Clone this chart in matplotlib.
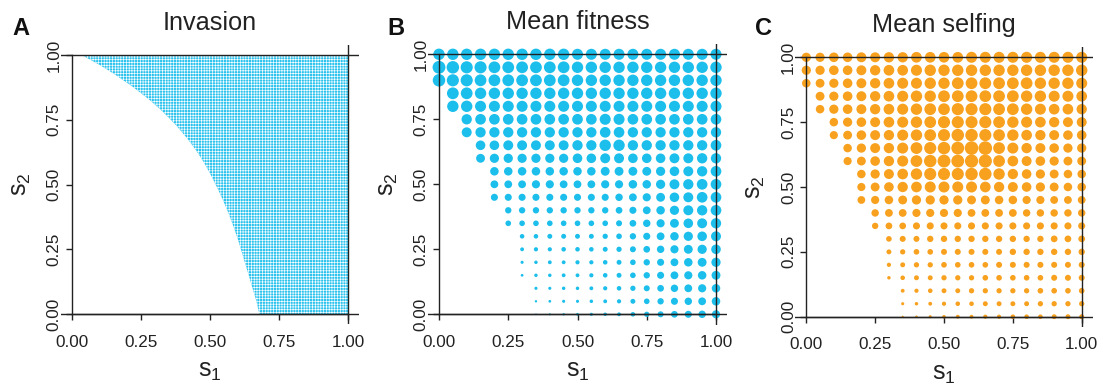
import numpy as np
import matplotlib
matplotlib.use("Agg")
import matplotlib.pyplot as plt

plt.rcParams['font.family'] = ['Liberation Sans', 'DejaVu Sans']
plt.rcParams['mathtext.fontset'] = 'custom'
plt.rcParams['mathtext.rm'] = 'Liberation Sans'
plt.rcParams['hatch.linewidth'] = 0.45
plt.rcParams['hatch.color'] = 'white'

# ---------------- data ----------------
s_vals = [0.00, 0.05, 0.10, 0.15, 0.20, 0.25, 0.30, 0.35, 0.40, 0.45, 0.50,
          0.55, 0.60, 0.65, 0.70, 0.75, 0.80, 0.85, 0.90, 0.95, 1.00]
tick_vals = [0.00, 0.25, 0.50, 0.75, 1.00]
tick_labels = ["0.00", "0.25", "0.50", "0.75", "1.00"]
titles = ["Invasion", "Mean fitness", "Mean selfing"]
panel_letters = ["A", "B", "C"]

# Panel A: invasion boundary (s1 threshold for each s2)
inv_s2 = [1.00, 0.96, 0.923, 0.875, 0.826, 0.78, 0.73, 0.68, 0.633, 0.585, 0.537,
          0.49, 0.44, 0.392, 0.344, 0.295, 0.247, 0.20, 0.151, 0.10, 0.054, 0.00]
inv_s1 = [0.035, 0.103, 0.158, 0.223, 0.282, 0.330, 0.376, 0.416, 0.449, 0.478, 0.503,
          0.525, 0.547, 0.566, 0.583, 0.599, 0.613, 0.626, 0.640, 0.654, 0.667, 0.679]

n = np.nan
# rows: s2 = 1.00 (top) ... 0.00 (bottom); columns: s1 = 0.00 ... 1.00
mean_fitness = [
    [30,30,30,30,30,30,30,30,30,30,29,29,29,29,29,29,29,29,29,29,29],
    [34,33,32,32,31,31,31,31,31,31,30,30,30,30,30,30,30,30,30,30,30],
    [33,32,32,31,31,31,31,31,31,31,30,30,30,30,30,30,30,30,30,30,30],
    [n,31,31,30,30,30,30,30,30,30,30,30,30,30,30,30,30,30,30,30,30],
    [n,30,30,29,29,29,29,29,29,29,29,29,29,29,29,29,29,29,29,29,29],
    [n,n,27,28,28,28,28,28,28,28,28,28,29,29,28,28,28,28,28,28,28],
    [n,n,26,27,27,27,27,27,27,27,27,27,28,28,27,27,27,27,27,27,27],
    [n,n,n,25,25,26,26,26,26,26,27,27,30,30,27,27,27,27,27,27,28],
    [n,n,n,23,24,24,24,24,24,24,25,25,26,26,25,25,25,26,26,27,27],
    [n,n,n,n,22,22,22,22,22,22,22,22,23,23,23,23,24,25,26,27,28],
    [n,n,n,n,20,20,20,21,21,20,20,20,21,21,22,22,24,26,27,28,28],
    [n,n,n,n,18,18,18,18,18,18,18,18,18,19,20,21,23,25,26,28,28],
    [n,n,n,n,n,16,16,16,16,16,16,16,16,17,18,20,22,24,26,27,28],
    [n,n,n,n,n,14,14,14,14,14,14,14,14,15,17,19,21,23,25,26,27],
    [n,n,n,n,n,n,11,11,12,12,12,12,13,14,16,18,20,22,24,25,26],
    [n,n,n,n,n,n,9,10,10,11,11,11,12,13,15,17,19,21,23,24,25],
    [n,n,n,n,n,n,7,8,9,9,10,10,11,12,14,16,18,20,22,23,24],
    [n,n,n,n,n,n,6,8,8,9,9,10,11,12,14,16,18,20,21,22,23],
    [n,n,n,n,n,n,n,7,7,8,8,9,10,11,13,15,17,19,20,21,22],
    [n,n,n,n,n,n,n,5,6,7,7,8,9,10,12,14,16,18,19,20,22],
    [n,n,n,n,n,n,n,3,4,5,6,7,8,9,11,13,15,17,18,19,21],
]
mean_selfing = [
    [24,24,25,25,26,26,27,27,28,28,28,28,29,29,29,29,29,29,29,29,29],
    [24,24,25,25,26,27,28,28,29,30,30,30,30,30,30,30,30,30,30,30,30],
    [22,23,24,25,26,27,28,29,29,30,30,31,31,31,31,31,31,30,30,30,29],
    [n,23,24,25,26,27,28,29,30,30,31,31,31,31,31,31,30,30,29,29,28],
    [n,22,24,25,26,27,28,29,30,31,31,32,32,32,31,31,30,29,28,28,27],
    [n,n,22,24,25,26,28,29,30,31,32,32,32,32,31,30,29,28,27,26,26],
    [n,n,21,23,25,26,27,29,30,31,32,33,33,32,31,30,28,27,26,25,25],
    [n,n,n,22,24,26,27,29,31,32,33,34,36,36,31,29,27,26,25,24,24],
    [n,n,n,21,23,25,27,29,31,33,34,34,35,35,31,28,26,25,24,23,23],
    [n,n,n,n,22,24,26,28,30,32,32,32,33,33,30,27,25,24,23,22,22],
    [n,n,n,n,21,23,25,27,28,29,29,29,29,28,27,26,25,24,23,22,22],
    [n,n,n,n,20,21,22,23,24,24,24,24,23,23,22,22,21,21,20,20,20],
    [n,n,n,n,n,19,20,20,21,21,21,21,20,20,20,20,19,19,19,19,19],
    [n,n,n,n,n,16,17,17,18,18,18,18,18,18,18,18,18,18,18,18,18],
    [n,n,n,n,n,n,14,15,15,16,16,16,16,16,16,16,16,16,17,17,17],
    [n,n,n,n,n,n,12,13,14,14,15,15,15,15,15,16,16,16,16,16,16],
    [n,n,n,n,n,n,10,12,13,13,14,14,14,14,15,15,15,15,15,15,15],
    [n,n,n,n,n,n,8,11,12,12,13,13,13,14,14,14,14,14,15,15,15],
    [n,n,n,n,n,n,n,9,10,11,12,12,13,13,13,13,13,14,14,14,14],
    [n,n,n,n,n,n,n,7,8,9,10,11,11,12,12,12,12,13,13,13,13],
    [n,n,n,n,n,n,n,4,5,7,8,9,9,10,10,11,11,11,12,12,12],
]

# ---------------- style ----------------
W, H = 1103, 385
CYAN = '#1CBFEC'
FILL_A = '#2BC3EE'
ORANGE = '#F7A11F'
LINE = '#222222'
LW = 1.0

fig = plt.figure(figsize=(W / 100, H / 100), dpi=100)


def add_axes(x0, x1, y1, y0):
    ux = x1 - x0
    uy = y0 - y1
    left = x0 - 0.04 * ux
    top = y1 - 0.04 * uy
    return fig.add_axes([left / W, 1 - (top + 1.08 * uy) / H,
                         1.08 * ux / W, 1.08 * uy / H])


axes = [add_axes(72, 348, 55, 314),
        add_axes(439, 716, 54.3, 314.3),
        add_axes(806.3, 1081.7, 57.3, 316.7)]
letter_x = [12, 387, 755]


def style(ax, title, letter, lx):
    ax.set_xlim(-0.04, 1.04)
    ax.set_ylim(-0.04, 1.04)
    for side in ['top', 'right']:
        ax.spines[side].set_visible(False)
    for side in ['bottom', 'left']:
        sp = ax.spines[side]
        sp.set_position(('data', 0))
        sp.set_bounds(0, 1)
        sp.set_color(LINE)
        sp.set_linewidth(LW)
        sp.set_zorder(4)
    ax.axhline(0, color=LINE, lw=LW, zorder=4)
    ax.axhline(1, color=LINE, lw=LW, zorder=4)
    ax.axvline(1, color=LINE, lw=LW, zorder=4)
    ax.set_xticks(tick_vals)
    ax.set_xticklabels(tick_labels)
    ax.set_yticks(tick_vals)
    ax.set_yticklabels(tick_labels, rotation=90, va='center')
    ax.tick_params(axis='both', length=4.3, width=LW, color=LINE,
                   labelsize=12.3, labelcolor='#222222')
    ax.tick_params(axis='x', pad=10.5)
    ax.tick_params(axis='y', pad=3.0)
    ax.set_title(title, fontsize=18.2, pad=10.5, color='#222222')
    ax.text(0.5, -0.187, r'$\mathregular{s_1}$', transform=ax.transAxes,
            ha='center', va='baseline', fontsize=18, color='#222222')
    ax.text(-0.134, 0.5, r'$\mathregular{s_2}$', transform=ax.transAxes,
            ha='center', va='center', rotation=90, fontsize=18, color='#222222')
    fig.text(lx / W, 1 - 35 / H, letter, fontsize=17, fontweight='bold',
             va='baseline', ha='left', color='#111111')


for ax, t, l, lx in zip(axes, titles, panel_letters, letter_x):
    style(ax, t, l, lx)

# Panel A: fine grid of invasion cells
axes[0].fill_betweenx(inv_s2, inv_s1, 1.0, facecolor=FILL_A, edgecolor='white',
                      hatch='+' * 6, lw=0, zorder=2)

# Panels B & C
s2_rows = s_vals[::-1]
S1, S2 = np.meshgrid(s_vals, s2_rows)
for ax, mat, col in [(axes[1], mean_fitness, CYAN), (axes[2], mean_selfing, ORANGE)]:
    M = np.array(mat, dtype=float)
    ok = ~np.isnan(M)
    diam_px = M[ok] / 3.0 * 1.08 + 0.6
    diam_pt = diam_px * 0.72
    ax.scatter(S1[ok], S2[ok], s=diam_pt ** 2, color=col, linewidths=0,
               zorder=2, clip_on=False)

fig.savefig('out.png', dpi=100)
